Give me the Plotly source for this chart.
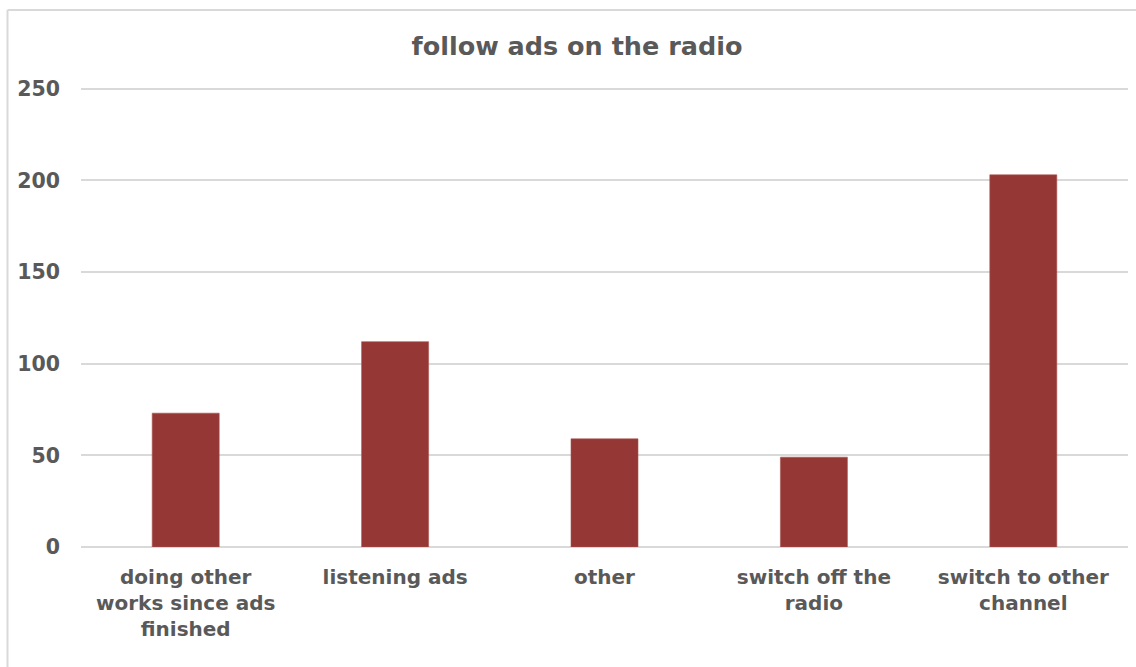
import plotly.graph_objects as go

# Survey responses: what listeners do when ads come on the radio
categories = [
    "doing other<br>works since ads<br>finished",
    "listening ads",
    "other",
    "switch off the<br>radio",
    "switch to other<br>channel",
]
counts = [73, 112, 59, 49, 203]
y_ticks = [0, 50, 100, 150, 200, 250]

W, H = 1136, 667
ML, MR, MT, MB = 81, 8, 85, 120
plot_w = W - ML - MR
plot_h = H - MT - MB

text_color = "#595959"
grid_color = "#d9d9d9"
bar_color = "#953735"
font_family = "DejaVu Sans, Liberation Sans, Arial, sans-serif"

fig = go.Figure(
    go.Bar(
        x=categories,
        y=counts,
        marker=dict(color=bar_color, line=dict(color="#a65553", width=0.6)),
        hoverinfo="x+y",
    )
)

# Frame around the chart area (left and top edges visible)
bx = (7.5 - ML) / plot_w
by = (MT + plot_h - 10) / plot_h
fig.add_shape(type="line", xref="paper", yref="paper", x0=bx, y0=by, x1=1.2, y1=by,
              line=dict(color=grid_color, width=2))
fig.add_shape(type="line", xref="paper", yref="paper", x0=bx, y0=by, x1=bx, y1=-0.5,
              line=dict(color=grid_color, width=2))

fig.update_layout(
    width=W,
    height=H,
    margin=dict(l=ML, r=MR, t=MT, b=MB),
    paper_bgcolor="white",
    plot_bgcolor="white",
    bargap=0.68,
    showlegend=False,
    title=dict(
        text="follow ads on the radio",
        x=577 / W,
        xref="container",
        xanchor="center",
        y=1 - 46 / H,
        yref="container",
        yanchor="middle",
        font=dict(family=font_family, size=25.5, color=text_color, weight="bold"),
    ),
    xaxis=dict(
        showgrid=False,
        showline=False,
        ticks="",
        ticklabelstandoff=16,
        tickfont=dict(family=font_family, size=20, color=text_color, weight="bold"),
    ),
    yaxis=dict(
        range=[0, 252],
        tickvals=y_ticks,
        showgrid=True,
        gridcolor=grid_color,
        gridwidth=1.5,
        zeroline=True,
        zerolinecolor=grid_color,
        zerolinewidth=1.5,
        showline=False,
        ticks="",
        ticklabelstandoff=20,
        tickfont=dict(family=font_family, size=20.5, color=text_color, weight="bold"),
    ),
)

fig.write_html("out.html")
